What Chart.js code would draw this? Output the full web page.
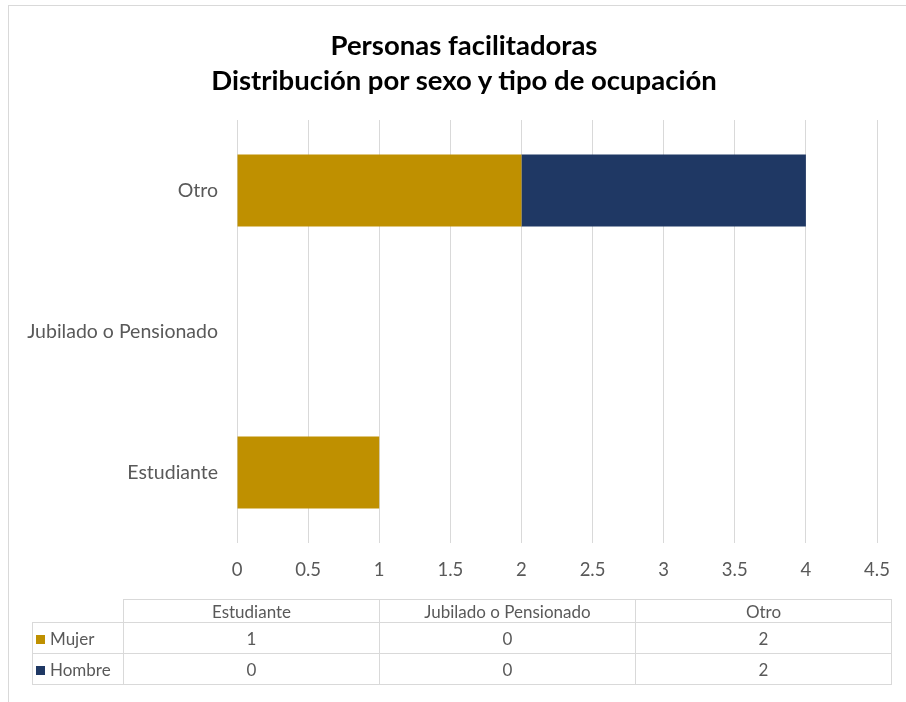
<!DOCTYPE html>
<html>
<head>
<meta charset="utf-8">
<script src="https://cdnjs.cloudflare.com/ajax/libs/Chart.js/4.4.1/chart.umd.min.js"></script>
<style>
  html, body { margin: 0; padding: 0; background: #fff; }
  #wrap { position: relative; width: 906px; height: 702px; overflow: hidden; }
  #frame {
    position: absolute; left: 8px; top: 5px; right: -2px; bottom: -2px;
    border-left: 1px solid #d9d9d9; border-top: 1px solid #d9d9d9;
  }
  #chartBox { position: absolute; left: 0; top: 0; width: 906px; height: 702px; }
  #chartTitle {
    position: absolute; left: 0; top: 27px; width: 928px; text-align: center;
    font-family: Lato, "Liberation Sans", sans-serif; font-weight: bold;
    font-size: 27.5px; line-height: 35px; color: #000;
  }
  #dataTable {
    position: absolute; left: 32px; top: 599px;
    border-collapse: collapse; table-layout: fixed;
    font-family: Lato, "Liberation Sans", sans-serif; font-size: 17px; color: #595959;
  }
  #dataTable td { border: 1px solid #d9d9d9; text-align: center; padding: 0; white-space: nowrap; }
  #dataTable tr.head td { height: 22px; }
  #dataTable tr.row td { height: 30px; }
  #dataTable td.corner { border: none; }
  #dataTable td.key { text-align: left; padding-left: 3px; }
  .swatch { display: inline-block; width: 9px; height: 9px; margin-right: 5px; vertical-align: 1px; }
</style>
</head>
<body>
<div id="wrap">
  <div id="frame"></div>
  <div id="chartBox"><canvas id="barChart"></canvas></div>
  <div id="chartTitle"></div>
  <table id="dataTable"></table>
</div>
<script>
// data
const categories = ["Estudiante", "Jubilado o Pensionado", "Otro"];
const seriesNames = ["Mujer", "Hombre"];
const mujerValues = [1, 0, 2];
const hombreValues = [0, 0, 2];
const seriesColors = ["#BF9000", "#1F3864"];
const titleLines = ["Personas facilitadoras", "Distribución por sexo y tipo de ocupación"];

const textGray = "#595959";
const fontName = "Lato, 'Liberation Sans', sans-serif";

const allValues = [mujerValues, hombreValues];

// title (two lines)
const titleEl = document.getElementById("chartTitle");
titleLines.forEach((line) => {
  const d = document.createElement("div");
  d.textContent = line;
  titleEl.appendChild(d);
});

// data table under the chart, built from the same arrays
const table = document.getElementById("dataTable");
const colgroup = document.createElement("colgroup");
[91, 256, 256, 256].forEach((w) => {
  const col = document.createElement("col");
  col.style.width = w + "px";
  colgroup.appendChild(col);
});
table.appendChild(colgroup);

const headRow = document.createElement("tr");
headRow.className = "head";
const corner = document.createElement("td");
corner.className = "corner";
headRow.appendChild(corner);
categories.forEach((cat) => {
  const td = document.createElement("td");
  td.textContent = cat;
  headRow.appendChild(td);
});
table.appendChild(headRow);

seriesNames.forEach((name, i) => {
  const tr = document.createElement("tr");
  tr.className = "row";
  const key = document.createElement("td");
  key.className = "key";
  const sw = document.createElement("span");
  sw.className = "swatch";
  sw.style.background = seriesColors[i];
  key.appendChild(sw);
  key.appendChild(document.createTextNode(name));
  tr.appendChild(key);
  allValues[i].forEach((v) => {
    const td = document.createElement("td");
    td.textContent = v;
    tr.appendChild(td);
  });
  table.appendChild(tr);
});

const ctx = document.getElementById("barChart").getContext("2d");

const config = {
  type: "bar",
  data: {
    labels: categories,
    datasets: seriesNames.map((name, i) => ({
      label: name,
      data: allValues[i],
      backgroundColor: seriesColors[i],
      borderWidth: 0,
      categoryPercentage: 1,
      barPercentage: 0.51,
    })),
  },
  options: {
    indexAxis: "y",
    responsive: true,
    maintainAspectRatio: false,
    animation: false,
    layout: { padding: { left: 0, right: 29, top: 120, bottom: 0 } },
    plugins: {
      legend: { display: false },
      tooltip: { enabled: false },
      title: { display: false },
    },
    scales: {
      x: {
        stacked: true,
        min: 0,
        max: 4.5,
        ticks: {
          stepSize: 0.5,
          color: textGray,
          font: { family: fontName, size: 18.5 },
          padding: 16,
          callback: (value) => String(value),
        },
        grid: { color: "#d9d9d9", drawTicks: false },
        border: { display: false },
        afterFit: (scale) => { scale.height = 159; },
      },
      y: {
        stacked: true,
        reverse: true,
        ticks: {
          color: textGray,
          font: { family: fontName, size: 19.5 },
          padding: 11,
        },
        grid: { display: false },
        border: { display: false },
        afterFit: (scale) => { scale.width = 237; },
      },
    },
  },
};

const barChart = new Chart(ctx, config);
</script>
</body>
</html>
